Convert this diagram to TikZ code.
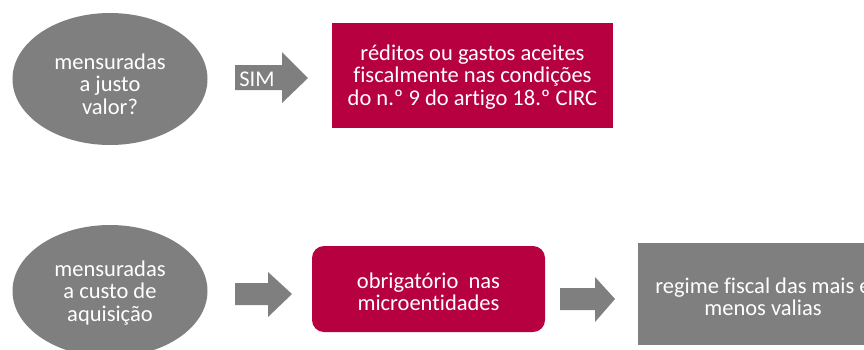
\documentclass[tikz,border=0pt]{standalone}
\usepackage{fontspec}
\setmainfont{Carlito}[Ligatures=NoCommon]
\definecolor{grayfill}{RGB}{127,127,127}
\definecolor{redfill}{RGB}{183,0,63}
\tikzset{
  txt/.style={text=white, align=center, font=\fontsize{22.5}{22.5}\selectfont, inner sep=0pt},
  oval/.style={ellipse, fill=grayfill, minimum width=195pt, minimum height=132pt, inner sep=0pt},
  redbox/.style={fill=redfill, inner sep=0pt},
  graybox/.style={fill=grayfill, inner sep=0pt},
  blockarrow/.style={fill=grayfill}
}
\usetikzlibrary{shapes.geometric}
\begin{document}
\begin{tikzpicture}[x=1pt,y=-1pt]
\useasboundingbox (0,0) rectangle (864,349);
\clip (0,0) rectangle (864,349);
% ellipses
\node[oval] (q1) at (110,79) {};
\node[txt] (q1t) at (110,84) {mensuradas\\a justo\\valor?};
\node[oval] (q2) at (110,291) {};
\node[txt] (q2t) at (110,293) {mensuradas\\a custo de\\aquisição};
% red box 1
\node[redbox, minimum width=281pt, minimum height=105pt] (r1) at (472.5,75.5) {};
\node[txt] (r1t) at (472.5,77) {réditos ou gastos aceites\\fiscalmente nas condições\\do n.º 9 do artigo 18.º CIRC};
% red box 2
\node[redbox, rounded corners=12pt, minimum width=233pt, minimum height=86pt] (r2) at (428.5,289) {};
\node[txt] (r2t) at (428.5,292) {obrigatório~~nas\\microentidades};
% gray box
\node[graybox, minimum width=250pt, minimum height=102pt] (g1) at (763,294) {};
\node[txt] (g1t) at (763,297) {regime fiscal das mais e\\menos valias};
% arrows
\fill[blockarrow] (235,65) -- (282,65) -- (282,52) -- (308,78) -- (282,103) -- (282,90) -- (235,90) -- cycle;
\node[txt] (sim) at (257,79) {SIM};
\fill[blockarrow] (235,283) -- (268,283) -- (268,272) -- (292,294) -- (268,317) -- (268,305) -- (235,305) -- cycle;
\fill[blockarrow] (560,288) -- (595,288) -- (595,277) -- (615,299) -- (595,322) -- (595,310) -- (560,310) -- cycle;
\end{tikzpicture}
\end{document}
